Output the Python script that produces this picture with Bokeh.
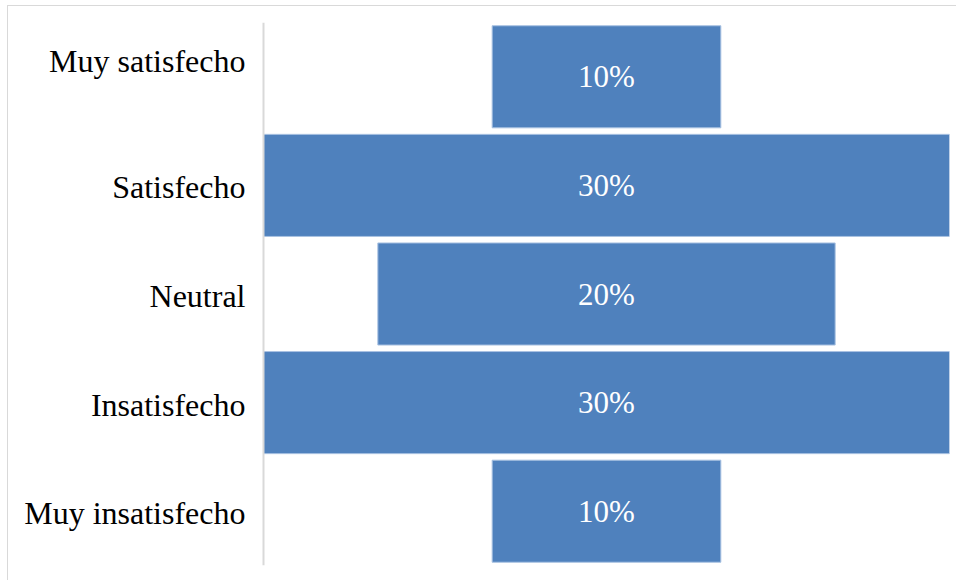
from bokeh.plotting import figure
from bokeh.models import ColumnDataSource, FactorRange, Range1d, Span
from bokeh.core.properties import value
from bokeh.embed import file_html
from bokeh.resources import INLINE

categories = ["Muy satisfecho", "Satisfecho", "Neutral", "Insatisfecho", "Muy insatisfecho"]
percent = [10, 30, 20, 30, 10]
value_labels = ["10%", "30%", "20%", "30%", "10%"]

max_half = max(percent) / 2          # half-width of the widest bar
src = ColumnDataSource(dict(
    cat=categories,
    left=[-v / 2 for v in percent],
    right=[v / 2 for v in percent],
    x=[0] * len(categories),
    lab=value_labels,
))

# layout: widest bar spans 686 px; category area left of it is 255 px
frame_w = 941
px_per_unit = 686 / (2 * max_half)
x_start = max_half - frame_w / px_per_unit

p = figure(
    width=949, height=575,
    y_range=FactorRange(*categories[::-1], range_padding=0),
    x_range=Range1d(x_start, max_half),
    output_backend="svg", toolbar_location=None,
    min_border_left=0, min_border_right=8, min_border_top=16, min_border_bottom=16,
    margin=(5, 0, 0, 7),
)
p.styles = {"border-top": "1px solid #d9d9d9", "border-left": "1px solid #d9d9d9"}

p.hbar(y="cat", left="left", right="right", height=0.94, source=src,
       fill_color="#4F81BD", line_color="#a9c2e2", line_width=1)
p.text(x="x", y="cat", text="lab", source=src, text_color="white",
       text_font=value("Liberation Serif"), text_font_size="31px",
       text_align="center", text_baseline="middle")

# category axis line
p.add_layout(Span(location=-max_half, dimension="height",
                  line_color="#d9d9d9", line_width=2))

# category labels (top one sits higher than its bar in the reference)
lab_src_top = ColumnDataSource(dict(x=[-max_half], y=categories[:1], t=categories[:1]))
lab_src_rest = ColumnDataSource(dict(x=[-max_half] * (len(categories) - 1),
                                     y=categories[1:], t=categories[1:]))
for s, dy in ((lab_src_top, -16), (lab_src_rest, 2)):
    p.text(x="x", y="y", text="t", source=s, x_offset=-18, y_offset=dy,
           text_align="right", text_baseline="middle",
           text_font=value("Liberation Serif"), text_font_size="32px",
           text_color="black")

p.xaxis.visible = False
p.yaxis.visible = False
p.xgrid.visible = False
p.ygrid.visible = False
p.outline_line_color = None

open("out.html", "w").write(file_html(p, INLINE))
